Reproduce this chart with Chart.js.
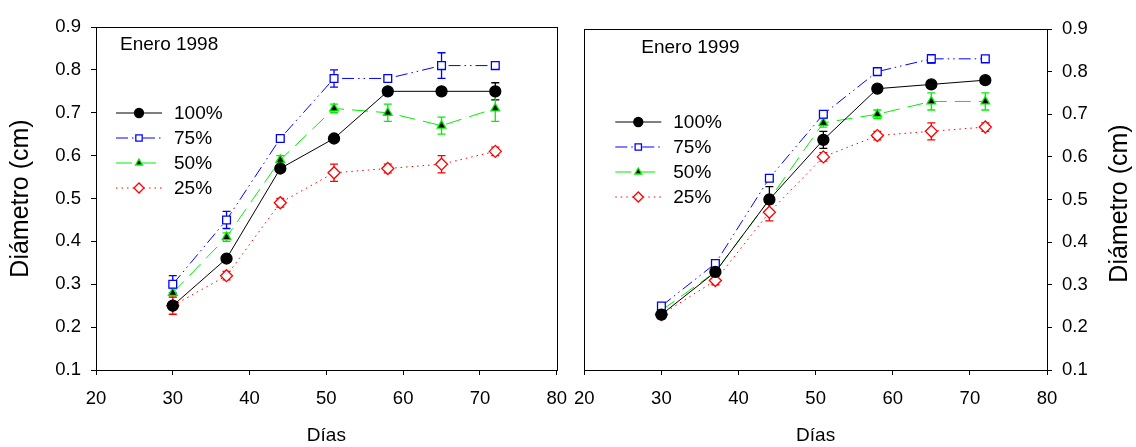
<!DOCTYPE html>
<html>
<head>
<meta charset="utf-8">
<script src="https://cdn.jsdelivr.net/npm/chart.js@4.4.1/dist/chart.umd.min.js"></script>
<style>
  body { margin: 0; background: #fff; }
  .panel { position: absolute; top: 0; height: 447px; }
  #left { left: 0; width: 580px; }
  #right { left: 561px; width: 575px; }
</style>
</head>
<body>
<div class="panel" id="left"><canvas id="c1"></canvas></div>
<div class="panel" id="right"><canvas id="c2"></canvas></div>
<script>
// días after planting
const dias = [30, 37, 44, 51, 58, 65, 72];
const serieNames = ['100%', '75%', '50%', '25%'];
const yTicks = [0.1, 0.2, 0.3, 0.4, 0.5, 0.6, 0.7, 0.8, 0.9];
const xTicks = [20, 30, 40, 50, 60, 70, 80];

// Enero 1998
const e98_100 = [0.25, 0.36, 0.57, 0.64, 0.75, 0.75, 0.75];
const e98_75  = [0.30, 0.45, 0.64, 0.78, 0.78, 0.81, 0.81];
const e98_50  = [0.28, 0.41, 0.59, 0.71, 0.70, 0.67, 0.71];
const e98_25  = [0.25, 0.32, 0.49, 0.56, 0.57, 0.58, 0.61];
const e98_100err = [0, 0.005, 0.005, 0.005, 0.005, 0.005, 0.02];
const e98_75err  = [0.02, 0.02, 0.005, 0.02, 0.005, 0.03, 0.005];
const e98_50err  = [0.01, 0.01, 0.01, 0.01, 0.02, 0.02, 0.03];
const e98_25err  = [0.02, 0.01, 0.01, 0.02, 0.01, 0.02, 0.01];

// Enero 1999
const e99_100 = [0.23, 0.33, 0.50, 0.64, 0.76, 0.77, 0.78];
const e99_75  = [0.25, 0.35, 0.55, 0.70, 0.80, 0.83, 0.83];
const e99_50  = [0.24, 0.33, 0.50, 0.68, 0.70, 0.73, 0.73];
const e99_25  = [0.23, 0.31, 0.47, 0.60, 0.65, 0.66, 0.67];
const e99_100err = [0.005, 0.005, 0.03, 0.02, 0.005, 0.005, 0.005];
const e99_75err  = [0.005, 0.005, 0.005, 0.005, 0.005, 0.01, 0.005];
const e99_50err  = [0.01, 0.01, 0.01, 0.01, 0.01, 0.02, 0.02];
const e99_25err  = [0.01, 0.01, 0.02, 0.01, 0.01, 0.02, 0.01];

const FONT = 'Liberation Sans, Arial, sans-serif';

const styles = [
  { color: '#000000', dash: [], pointStyle: 'circle', radius: 5.5, fill: '#000000', border: '#000000' },
  { color: '#0000ff', dash: [12, 4, 1.5, 4, 1.5, 4], pointStyle: 'rect', radius: 5.5, fill: '#ffffff', border: '#0000ff' },
  { color: '#00f000', dash: [16, 8], pointStyle: 'triangle', radius: 5, fill: '#000000', border: '#00f000' },
  { color: '#ff0000', dash: [1.5, 4], pointStyle: 'rectRot', radius: 6, fill: '#ffffff', border: '#ff0000' }
];

function makeSets(vals, errs) {
  return vals.map((v, i) => ({
    label: serieNames[i],
    data: dias.map((d, j) => ({ x: d, y: v[j] })),
    errs: errs[i],
    borderColor: styles[i].color,
    borderWidth: 1,
    borderDash: styles[i].dash,
    pointStyle: styles[i].pointStyle,
    pointRadius: styles[i].radius,
    pointBackgroundColor: styles[i].fill,
    pointBorderColor: styles[i].border,
    pointBorderWidth: 1.3,
    showLine: true,
    tension: 0
  }));
}

const errorBars = {
  id: 'errorBars',
  beforeDatasetsDraw(chart) {
    const ctx = chart.ctx;
    const xs = chart.scales.x, ys = chart.scales.y;
    chart.data.datasets.forEach(ds => {
      ctx.save();
      ctx.strokeStyle = ds.borderColor;
      ctx.lineWidth = 1.3;
      ds.data.forEach((p, j) => {
        const e = ds.errs[j];
        if (!e) return;
        const x = xs.getPixelForValue(p.x);
        const y1 = ys.getPixelForValue(p.y + e), y2 = ys.getPixelForValue(p.y - e);
        ctx.beginPath();
        ctx.moveTo(x, y1); ctx.lineTo(x, y2);
        ctx.moveTo(x - 4, y1); ctx.lineTo(x + 4, y1);
        ctx.moveTo(x - 4, y2); ctx.lineTo(x + 4, y2);
        ctx.stroke();
      });
      ctx.restore();
    });
  }
};

const decor = {
  id: 'decor',
  afterDraw(chart, args, o) {
    const ctx = chart.ctx;
    const a = chart.chartArea;
    ctx.save();
    // box
    ctx.strokeStyle = '#000';
    ctx.lineWidth = 1;
    ctx.strokeRect(Math.round(a.left) + 0.5, Math.round(a.top) + 0.5, Math.round(a.right - a.left), Math.round(a.bottom - a.top));
    // panel label
    ctx.fillStyle = '#000';
    ctx.font = '19px ' + FONT;
    ctx.textBaseline = 'middle';
    ctx.fillText(o.title, a.left + o.titleX, a.top + o.titleY);
    // legend
    chart.data.datasets.forEach((ds, i) => {
      const y = a.top + o.legY + i * 25;
      const x0 = a.left + o.legX;
      ctx.strokeStyle = ds.borderColor;
      ctx.lineWidth = 1;
      ctx.setLineDash(ds.borderDash);
      ctx.beginPath();
      ctx.moveTo(x0, y); ctx.lineTo(x0 + 46, y);
      ctx.stroke();
      ctx.setLineDash([]);
      ctx.fillStyle = ds.pointBackgroundColor;
      ctx.strokeStyle = ds.pointBorderColor;
      ctx.lineWidth = 1.3;
      Chart.helpers.drawPoint(ctx, {
        pointStyle: ds.pointStyle, radius: ds.pointRadius - 1, rotation: 0, borderWidth: 1.3
      }, x0 + 23, y);
      ctx.fillStyle = '#000';
      ctx.font = '19px ' + FONT;
      ctx.fillText(ds.label, x0 + 58, y + 1);
    });
    // y title on the right side, reading upward
    if (o.rightTitle) {
      ctx.translate(559, (a.top + a.bottom) / 2 + 4);
      ctx.rotate(-Math.PI / 2);
      ctx.textAlign = 'center';
      ctx.font = '25px ' + FONT;
      ctx.fillStyle = '#000';
      ctx.fillText('Diámetro (cm)', 0, 0);
    }
    ctx.restore();
  }
};

function makeChart(id, vals, errs, side, deco) {
  return new Chart(document.getElementById(id), {
    type: 'line',
    data: { datasets: makeSets(vals, errs) },
    options: {
      responsive: true,
      maintainAspectRatio: false,
      animation: false,
      layout: { padding: side === 'left' ? { left: 2, right: 12, top: 27, bottom: 0 } : { left: 18, right: 0, top: 29, bottom: 0 } },
      plugins: {
        legend: { display: false },
        tooltip: { enabled: false },
        decor: deco
      },
      scales: {
        x: {
          type: 'linear', min: 20, max: 80,
          afterBuildTicks: s => { s.ticks = xTicks.map(v => ({ value: v })); },
          afterFit: s => { s.height = 77; },
          grid: { drawOnChartArea: false, drawTicks: true, tickLength: 5, color: '#000', tickColor: '#000' },
          border: { color: '#000' },
          ticks: { color: '#000', font: { family: FONT, size: 18.5 }, padding: 13, maxRotation: 0 },
          title: { display: true, text: 'Días', color: '#000', font: { family: FONT, size: 19 }, padding: { top: 0, bottom: 0 } }
        },
        y: {
          type: 'linear', min: 0.1, max: 0.9, position: side,
          afterBuildTicks: s => { s.ticks = yTicks.map(v => ({ value: v })); },
          afterFit: s => { s.width = side === 'left' ? 94 : 89; },
          grid: { drawOnChartArea: false, drawTicks: true, tickLength: 5, color: '#000', tickColor: '#000' },
          border: { color: '#000' },
          ticks: { color: '#000', font: { family: FONT, size: 18.5 }, padding: 10, callback: v => v.toFixed(1) },
          title: { display: side === 'left', text: 'Diámetro (cm)', color: '#000', font: { family: FONT, size: 25 }, padding: { top: 4, bottom: 0 } }
        }
      }
    },
    plugins: [errorBars, decor]
  });
}

makeChart('c1', [e98_100, e98_75, e98_50, e98_25], [e98_100err, e98_75err, e98_50err, e98_25err], 'left',
  { title: 'Enero 1998', titleX: 24, titleY: 18, legX: 20, legY: 86, rightTitle: false });
makeChart('c2', [e99_100, e99_75, e99_50, e99_25], [e99_100err, e99_75err, e99_50err, e99_25err], 'right',
  { title: 'Enero 1999', titleX: 57, titleY: 19, legX: 31, legY: 93, rightTitle: true });
</script>
</body>
</html>
